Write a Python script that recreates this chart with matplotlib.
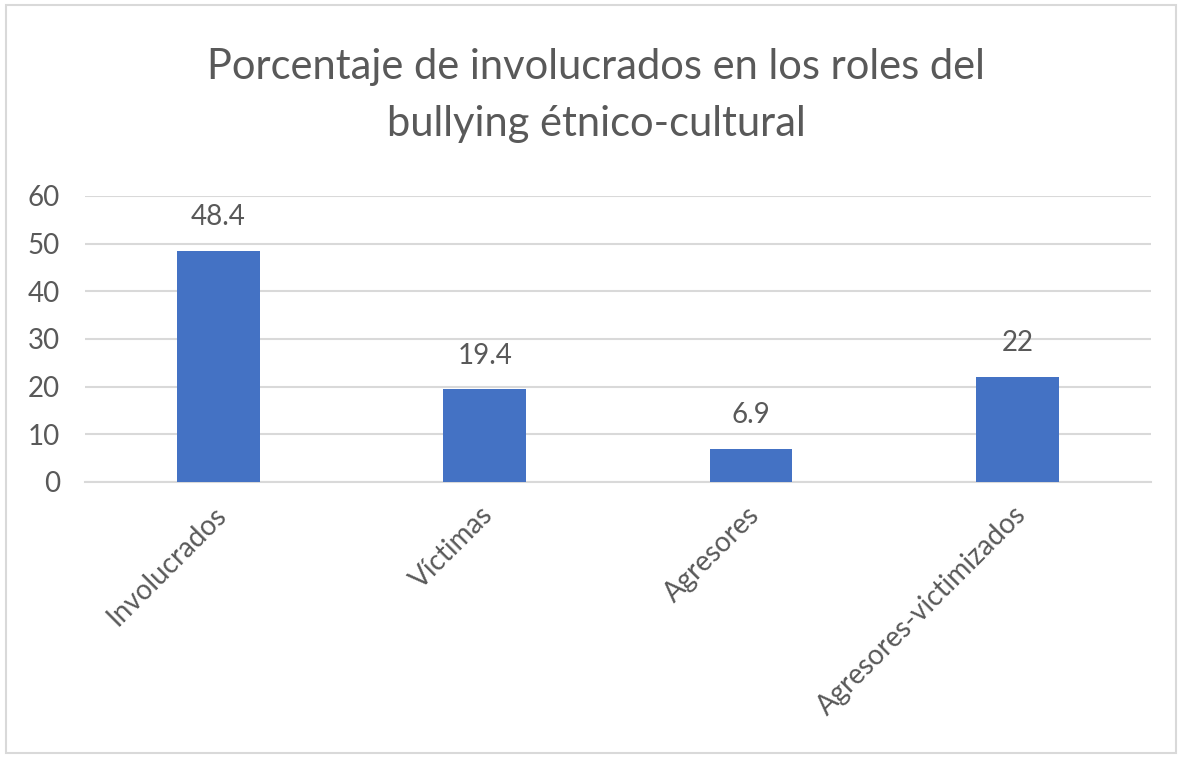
import matplotlib.pyplot as plt
import matplotlib.transforms as mtransforms
from matplotlib.patches import Rectangle

# chart data
categories = ["Involucrados", "Víctimas", "Agresores", "Agresores-victimizados"]
values = [48.4, 19.4, 6.9, 22]
value_labels = ["48.4", "19.4", "6.9", "22"]
yticks = [0, 10, 20, 30, 40, 50, 60]

plt.rcParams["font.family"] = ["Lato", "DejaVu Sans"]
text_color = "#595959"
grid_color = "#d9d9d9"
bar_color = "#4472c4"

fig = plt.figure(figsize=(11.81, 7.59), dpi=100)
ax = fig.add_axes([0.072, 0.365, 0.9025, 0.377])

x = list(range(len(categories)))
ax.bar(x, values, width=0.31, color=bar_color, zorder=3)

for xi, v, lab in zip(x, values, value_labels):
    ax.annotate(lab, (xi, v), xytext=(0, 15), textcoords="offset points",
                ha="center", va="bottom", fontsize=20, color=text_color)

ax.set_xlim(-0.5, 3.5)
ax.set_ylim(0, 60)
ax.set_yticks(yticks)
ax.set_xticks(x)
ax.set_xticklabels(categories, rotation=45, ha="right", rotation_mode="anchor")
ax.tick_params(axis="both", length=0, labelsize=20, labelcolor=text_color)
ax.tick_params(axis="x", pad=14)
ax.tick_params(axis="y", pad=18)

# nudge rotated category labels slightly left
shift = mtransforms.ScaledTranslation(-5 / 100, 0, fig.dpi_scale_trans)
for lbl in ax.get_xticklabels():
    lbl.set_transform(lbl.get_transform() + shift)

ax.grid(axis="y", color=grid_color, linewidth=1.5, zorder=0)
for side in ["top", "right", "left"]:
    ax.spines[side].set_visible(False)
ax.spines["bottom"].set_color(grid_color)
ax.spines["bottom"].set_linewidth(1.5)

fig.text(0.505, 0.912, "Porcentaje de involucrados en los roles del",
         ha="center", va="center", fontsize=30, color=text_color)
fig.text(0.505, 0.837, "bullying étnico-cultural",
         ha="center", va="center", fontsize=30, color=text_color)

# outer chart border
fig.patches.append(Rectangle((0.005, 0.008), 0.991, 0.985, transform=fig.transFigure,
                             fill=False, edgecolor="#d9d9d9", linewidth=1.5))

fig.savefig("out.png", dpi=100)
